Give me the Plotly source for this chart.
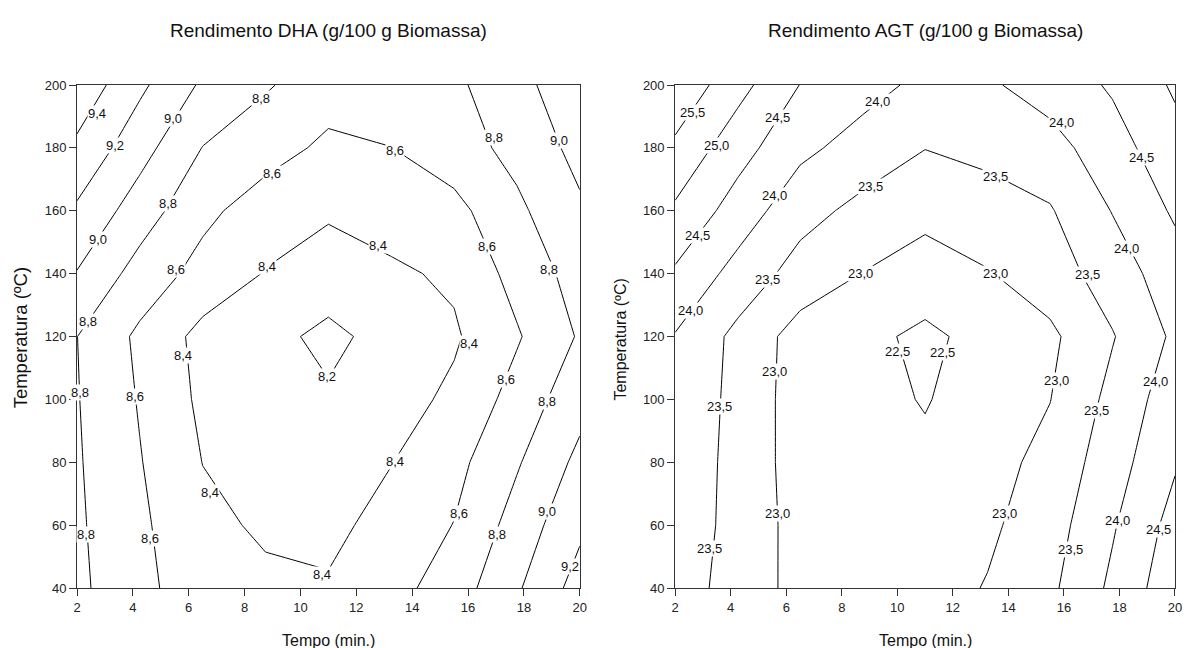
import plotly.graph_objects as go

# Grid of the response surfaces: time (min.) x temperature (ºC)
tempo = [2, 4.25, 6.5, 8.75, 11, 13.25, 15.5, 17.75, 20]
temperatura = [40, 60, 80, 100, 120, 140, 160, 180, 200]

# DHA yield (g/100 g biomass), one row per temperature
rend_dha = [
    [8.84, 8.66, 8.47, 8.44, 8.42, 8.53, 8.70, 8.975, 9.28],
    [8.83, 8.635, 8.45, 8.37, 8.35, 8.47, 8.605, 8.88, 9.16],
    [8.82, 8.61, 8.397, 8.345, 8.29, 8.395, 8.54, 8.78, 9.05],
    [8.81, 8.585, 8.36, 8.30, 8.22, 8.32, 8.44, 8.675, 8.93],
    [8.802, 8.56, 8.34, 8.25, 8.16, 8.26, 8.375, 8.58, 8.82],
    [8.99, 8.72, 8.53, 8.39, 8.29, 8.37, 8.43, 8.67, 8.88],
    [9.17, 8.90, 8.65, 8.50, 8.43, 8.48, 8.54, 8.76, 8.97],
    [9.36, 9.075, 8.795, 8.68, 8.56, 8.598, 8.71, 8.86, 9.06],
    [9.54, 9.24, 8.97, 8.82, 8.69, 8.70, 8.76, 8.94, 9.13],
]

# AGT yield (g/100 g biomass), one row per temperature
rend_agt = [
    [23.75, 23.29, 22.84, 22.79, 22.78, 23.03, 23.40, 24.10, 24.83],
    [23.85, 23.31, 22.83, 22.76, 22.72, 22.91, 23.28, 23.95, 24.68],
    [23.88, 23.32, 22.79, 22.70, 22.60, 22.82, 23.15, 23.78, 24.45],
    [23.90, 23.35, 22.77, 22.66, 22.47, 22.74, 22.99, 23.64, 24.28],
    [23.97, 23.37, 22.79, 22.62, 22.40, 22.66, 22.90, 23.47, 24.09],
    [24.43, 23.82, 23.30, 22.99, 22.77, 22.97, 23.26, 23.74, 24.28],
    [24.92, 24.28, 23.68, 23.36, 23.14, 23.30, 23.46, 24.02, 24.57],
    [25.40, 24.70, 24.12, 23.80, 23.51, 23.62, 23.81, 24.30, 24.82],
    [25.89, 25.175, 24.49, 24.18, 23.88, 23.93, 24.22, 24.56, 25.07],
]

# Contour levels: (start, end, step)
niveis_dha = (8.2, 9.4, 0.2)
niveis_agt = (22.5, 25.5, 0.5)

# Inline contour labels: level value and where it sits on its line
rot_dha_nivel = [9.4, 9.2, 9.0, 9.0, 8.8, 8.8, 8.8, 8.6, 8.6, 8.4,
                 8.6, 8.8, 9.0, 8.4, 8.6, 8.8, 8.8, 8.6, 8.4, 8.8,
                 8.6, 8.4, 8.2, 8.4, 8.6, 8.8, 8.4, 8.6, 8.8, 9.0,
                 9.2, 8.4]
rot_dha_x = [2.70, 3.35, 5.43, 2.74, 2.40, 5.25, 8.57, 5.55, 8.98, 8.81,
             13.37, 16.93, 19.24, 12.78, 16.69, 18.89, 2.12, 4.06, 5.78, 2.32,
             4.60, 6.76, 10.94, 16.04, 17.35, 18.83, 13.37, 15.69, 17.05, 18.83,
             19.66, 10.76]
rot_dha_y = [191.0, 180.9, 189.4, 151.0, 124.7, 162.4, 195.8, 141.4, 171.9, 142.2,
             179.3, 183.2, 182.5, 148.8, 148.6, 141.2, 102.1, 100.9, 114.1, 56.9,
             55.8, 70.3, 107.2, 117.8, 106.4, 99.3, 80.2, 63.8, 56.9, 64.3,
             46.8, 44.2]

rot_agt_nivel = [25.5, 25.0, 24.5, 24.0, 24.0, 24.5, 23.5, 23.5, 23.0, 24.0,
                 24.0, 23.5, 24.5, 23.0, 23.5, 24.0, 23.0, 23.5, 23.0, 23.5,
                 22.5, 22.5, 23.0, 23.5, 24.0, 23.0, 24.0, 24.5, 23.5]
rot_agt_x = [2.63, 3.47, 5.68, 9.29, 5.59, 2.81, 9.05, 5.32, 8.66, 2.55,
             15.93, 13.55, 18.80, 13.52, 16.86, 18.26, 5.59, 3.61, 5.68, 3.25,
             10.00, 11.64, 15.73, 17.19, 19.28, 13.85, 17.94, 19.39, 16.23]
rot_agt_y = [191.3, 180.9, 189.6, 194.7, 164.7, 152.1, 167.7, 138.2, 140.1, 128.2,
             188.0, 170.8, 177.0, 140.1, 139.6, 148.1, 108.8, 97.7, 63.8, 52.5,
             115.2, 114.9, 106.0, 96.6, 105.6, 63.8, 61.6, 58.5, 52.1]

titulos = ["Rendimento DHA (g/100 g Biomassa)", "Rendimento AGT (g/100 g Biomassa)"]
titulo_x = "Tempo (min.)"
titulo_y = "Temperatura (ºC)"

FONT = "Liberation Sans, Arial, sans-serif"
W, H = 1189, 648
ML, MR, MT, MB = 77, 7, 85, 60
plot_w = W - ML - MR
plot_h = H - MT - MB


def px_x(p):
    return (p - ML) / plot_w


def px_y(p):
    return (H - MB - p) / plot_h


def contorno(z, niveis, xa, ya):
    start, end, step = niveis
    return go.Contour(
        x=tempo, y=temperatura, z=z,
        xaxis=xa, yaxis=ya,
        autocontour=False,
        contours=dict(start=start, end=end, size=step, coloring="none",
                      showlabels=False),
        line=dict(color="black", width=1, smoothing=0),
        showscale=False, hoverinfo="skip",
    )


def fmt(v):
    return f"{v:.1f}".replace(".", ",")


def rotulos(niveis, xs, ys, xref, yref):
    out = []
    for v, x, y in zip(niveis, xs, ys):
        out.append(dict(text=fmt(v), x=x, y=y, xref=xref, yref=yref,
                        showarrow=False, xanchor="center", yanchor="middle",
                        bgcolor="white", borderpad=0,
                        font=dict(family=FONT, size=13, color="#111")))
    return out


fig = go.Figure()
fig.add_trace(contorno(rend_dha, niveis_dha, "x", "y"))
fig.add_trace(contorno(rend_agt, niveis_agt, "x2", "y2"))

eixo = dict(showline=True, linecolor="#333", linewidth=1, mirror=True,
            ticks="outside", ticklen=7, tickcolor="#333", tickwidth=1,
            showgrid=False, zeroline=False,
            tickfont=dict(family=FONT, size=13, color="#222"))

dom1 = [0, px_x(583)]
dom2 = [px_x(679), 1]

fig.update_layout(
    width=W, height=H, autosize=False,
    margin=dict(l=ML, r=MR, t=MT, b=MB),
    paper_bgcolor="white", plot_bgcolor="white",
    separators=",.",
    showlegend=False,
    font=dict(family=FONT, color="#111"),
    xaxis=dict(domain=dom1, range=[2, 20], tick0=2, dtick=2, anchor="y", **eixo),
    yaxis=dict(domain=[0, 1], range=[40, 200], tick0=40, dtick=20, anchor="x", **eixo),
    xaxis2=dict(domain=dom2, range=[2, 20], tick0=2, dtick=2, anchor="y2", **eixo),
    yaxis2=dict(domain=[0, 1], range=[40, 200], tick0=40, dtick=20, anchor="x2", **eixo),
)

anot = []
anot += rotulos(rot_dha_nivel, rot_dha_x, rot_dha_y, "x", "y")
anot += rotulos(rot_agt_nivel, rot_agt_x, rot_agt_y, "x2", "y2")

centros = [(dom1[0] + dom1[1]) / 2, (dom2[0] + dom2[1]) / 2]
for c, t in zip(centros, titulos):
    anot.append(dict(text=t, x=c, y=px_y(31), xref="paper", yref="paper",
                     showarrow=False, xanchor="center", yanchor="middle",
                     font=dict(family=FONT, size=19, color="#111")))
    anot.append(dict(text=titulo_x, x=c, y=px_y(640), xref="paper", yref="paper",
                     showarrow=False, xanchor="center", yanchor="middle",
                     font=dict(family=FONT, size=16, color="#111")))
anot.append(dict(text=titulo_y, x=px_x(20), y=px_y(338), xref="paper", yref="paper",
                 showarrow=False, textangle=-90, xanchor="center", yanchor="middle",
                 font=dict(family=FONT, size=18.5, color="#111")))
anot.append(dict(text=titulo_y, x=px_x(623), y=px_y(340), xref="paper", yref="paper",
                 showarrow=False, textangle=-90, xanchor="center", yanchor="middle",
                 font=dict(family=FONT, size=16, color="#111")))
fig.update_layout(annotations=anot)

fig.write_html("out.html")
